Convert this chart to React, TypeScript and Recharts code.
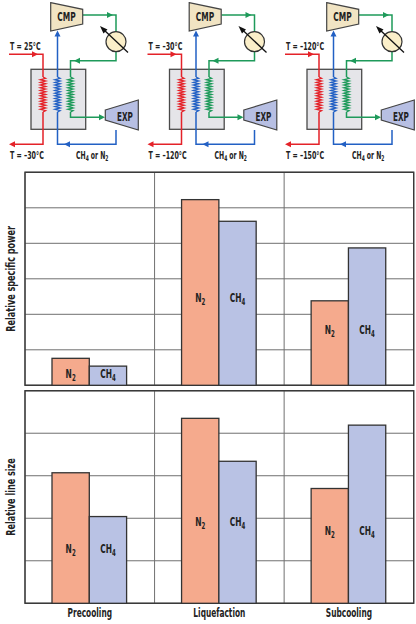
import React from 'react';
import { BarChart, Bar, XAxis, YAxis, CartesianGrid, ReferenceArea, Label } from 'recharts';

const categories = ['Precooling', 'Liquefaction', 'Subcooling'];
const powerN2 = [0.76, 5.23, 2.38];
const powerCH4 = [0.54, 4.62, 3.87];
const lineN2 = [3.07, 4.35, 2.7];
const lineCH4 = [2.04, 3.34, 4.19];
const powerTicks = [0, 1, 2, 3, 4, 5, 6];
const lineTicks = [0, 1, 2, 3, 4, 5];
const inletTemps = ['T = 25°C', 'T = –30°C', 'T = –120°C'];
const outletTemps = ['T = –30°C', 'T = –120°C', 'T = –150°C'];

const powerData = categories.map((c, i) => ({ cat: c, n2: powerN2[i], ch4: powerCH4[i] }));
const lineData = categories.map((c, i) => ({ cat: c, n2: lineN2[i], ch4: lineCH4[i] }));

const FONT = "'Liberation Sans Narrow', 'DejaVu Sans Condensed', 'Roboto Condensed', 'Arial Narrow', sans-serif";
const N2_FILL = '#f5aa8d';
const CH4_FILL = '#b9c2e4';
const RED = '#e42229';
const BLUE = '#2260c4';
const GREEN = '#1e9a5a';

function CT({ x, y, sx, size, anchor = 'start', rotate = 0, fill = '#222', baseline, weight = 'bold', children }: any) {
  return (
    <text
      transform={`translate(${x},${y}) rotate(${rotate}) scale(${sx},1)`}
      textAnchor={anchor}
      dominantBaseline={baseline}
      fontFamily={FONT}
      fontSize={size}
      fontWeight={weight}
      fill={fill}
    >
      {children}
    </text>
  );
}

function makeShape(key: string, other: string, fill: string, base: string, sub: string) {
  return (props: any) => {
    const { x, y, width, height, payload } = props;
    const v = payload[key];
    const o = payload[other];
    const unit = v > 0 ? height / v : 0;
    const bottom = y + height;
    const ly = bottom - ((v + o) / 2) * unit / 2;
    return (
      <g>
        <rect x={x} y={y} width={width} height={height} fill={fill} stroke="#333" strokeWidth={1.3} />
        <CT x={x + width / 2} y={ly + 4.5} sx={0.64} size={13} anchor="middle">
          {base}
          <tspan fontSize={9.5} dy={3}>{sub}</tspan>
        </CT>
      </g>
    );
  };
}

const vGen = ({ offset }: any) => [
  offset.left,
  offset.left + offset.width / 3,
  offset.left + (2 * offset.width) / 3,
  offset.left + offset.width,
];

const hGen = (ticks: number[]) => ({ offset }: any) => {
  const max = ticks[ticks.length - 1];
  return ticks.map((t) => offset.top + offset.height * (1 - t / max));
};

const yLabel = (text: string) => (props: any) => {
  const vb = props.viewBox || {};
  const cx = 10.5;
  const cy = vb.y + vb.height / 2;
  return (
    <CT x={cx} y={cy} rotate={-90} sx={0.72} size={12.5} anchor="middle" baseline="central">
      {text}
    </CT>
  );
};

const CatTick = (props: any) => {
  const { x, y, payload } = props;
  return (
    <CT x={x} y={y + 5.5} sx={0.66} size={12.5} anchor="middle">
      {payload.value}
    </CT>
  );
};

function Panel({ data, ticks, title, showX }: any) {
  const max = ticks[ticks.length - 1];
  return (
    <BarChart
      width={416}
      height={showX ? 239 : 230}
      data={data}
      margin={showX ? { top: 5.7, right: 2.3, bottom: 0, left: 0 } : { top: 12.3, right: 2.3, bottom: 4.7, left: 0 }}
      barGap={0}
      barSize={37.3}
    >
      <CartesianGrid
        stroke="#707070"
        strokeWidth={1}
        verticalCoordinatesGenerator={vGen}
        horizontalCoordinatesGenerator={hGen(ticks)}
      />
      <XAxis dataKey="cat" hide={!showX} height={showX ? 20.7 : 0} axisLine={false} tickLine={false} tick={<CatTick />} interval={0} />
      <YAxis domain={[0, max]} ticks={ticks} width={25} tick={false} axisLine={false} tickLine={false}>
        <Label content={yLabel(title)} />
      </YAxis>
      <Bar dataKey="n2" isAnimationActive={false} shape={makeShape('n2', 'ch4', N2_FILL, 'N', '2')} />
      <Bar dataKey="ch4" isAnimationActive={false} shape={makeShape('ch4', 'n2', CH4_FILL, 'CH', '4')} />
      <ReferenceArea y1={0} y2={max} fill="none" stroke="#3a3a3a" strokeWidth={1.4} ifOverflow="visible" />
    </BarChart>
  );
}

function Arrow({ x, y, dir, color }: any) {
  const L = 6, W = 3;
  let pts = '';
  if (dir === 'r') pts = `${x},${y} ${x - L},${y - W} ${x - L},${y + W}`;
  if (dir === 'l') pts = `${x},${y} ${x + L},${y - W} ${x + L},${y + W}`;
  if (dir === 'u') pts = `${x},${y} ${x - W},${y + L} ${x + W},${y + L}`;
  if (dir === 'd') pts = `${x},${y} ${x - W},${y - L} ${x + W},${y - L}`;
  return <polygon points={pts} fill={color} />;
}

function Coil({ x, y1, y2, color }: any) {
  const pts: string[] = [`${x},${y1}`];
  const n = 26;
  const step = (y2 - y1) / n;
  for (let i = 1; i < n; i++) {
    pts.push(`${x + (i % 2 ? 2.6 : -2.6)},${y1 + i * step}`);
  }
  pts.push(`${x},${y2}`);
  return <polyline points={pts.join(' ')} fill="none" stroke={color} strokeWidth={1.3} />;
}

function Diagram({ dx, tIn, tOut }: any) {
  return (
    <g transform={`translate(${dx},0)`}>
      <rect x={31} y={69.3} width={54.7} height={60} fill="#e5e5e9" stroke="#4a4a4a" strokeWidth={1.3} />
      {/* red */}
      <path d="M9,54.3 H43 V77" fill="none" stroke={RED} strokeWidth={1.5} />
      <Coil x={43} y1={77} y2={112} color={RED} />
      <path d="M43,112 V144.3 H14" fill="none" stroke={RED} strokeWidth={1.5} />
      <Arrow x={38} y={54.3} dir="r" color={RED} />
      <Arrow x={9} y={144.3} dir="l" color={RED} />
      {/* blue */}
      <path d="M116,130 V144.3 H57.5 V112" fill="none" stroke={BLUE} strokeWidth={1.5} />
      <Coil x={57.5} y1={77} y2={112} color={BLUE} />
      <path d="M57.5,77 V33" fill="none" stroke={BLUE} strokeWidth={1.5} />
      <Arrow x={57.5} y={30.5} dir="u" color={BLUE} />
      <Arrow x={64} y={144.3} dir="l" color={BLUE} />
      {/* green */}
      <path d="M83,15 H116 V31.7" fill="none" stroke={GREEN} strokeWidth={1.5} />
      <path d="M116,51.7 V60.7 H70.5 V77" fill="none" stroke={GREEN} strokeWidth={1.5} />
      <Coil x={70.5} y1={77} y2={112} color={GREEN} />
      <path d="M70.5,112 V117.3 H100" fill="none" stroke={GREEN} strokeWidth={1.5} />
      <Arrow x={113} y={15} dir="r" color={GREEN} />
      <Arrow x={74} y={60.7} dir="l" color={GREEN} />
      <Arrow x={105} y={117.3} dir="r" color={GREEN} />
      {/* valve */}
      <circle cx={116} cy={41.7} r={10} fill="#fbefc9" stroke="#333" strokeWidth={1.2} />
      <line x1={103} y1={29} x2={128} y2={52.5} stroke="#111" strokeWidth={1.3} />
      <polygon points="100,26 107.5,29.5 103.5,33.5" fill="#111" />
      {/* compressor */}
      <polygon points="50.7,2.7 82.7,9.3 82.7,24 50.7,31" fill="#f1e4c3" stroke="#444" strokeWidth={1.2} />
      <CT x={66.5} y={21} sx={0.72} size={11.5} anchor="middle">CMP</CT>
      {/* expander */}
      <polygon points="105.3,110 138.3,100 138.3,130 105.3,120" fill="#b7bfe3" stroke="#444" strokeWidth={1.2} />
      <CT x={125} y={121} sx={0.7} size={11.5} anchor="middle">EXP</CT>
      {/* labels */}
      <CT x={10} y={50} sx={0.64} size={11}>{tIn}</CT>
      <CT x={10} y={158.5} sx={0.64} size={11}>{tOut}</CT>
      <CT x={76} y={158.5} sx={0.62} size={11}>
        CH<tspan fontSize={8} dy={2.5}>4</tspan>
        <tspan dy={-2.5}> or N</tspan>
        <tspan fontSize={8} dy={2.5}>2</tspan>
      </CT>
    </g>
  );
}

export default function App() {
  return (
    <div style={{ position: 'absolute', left: 0, top: 0, width: 416, height: 624, background: '#fff', overflow: 'hidden' }}>
      <svg width={416} height={170} style={{ position: 'absolute', left: 0, top: 0 }}>
        {[0, 138.5, 276].map((dx, i) => (
          <Diagram key={i} dx={dx} tIn={inletTemps[i]} tOut={outletTemps[i]} />
        ))}
      </svg>
      <div style={{ position: 'absolute', left: 0, top: 160 }}>
        <Panel data={powerData} ticks={powerTicks} title="Relative specific power" showX={false} />
      </div>
      <div style={{ position: 'absolute', left: 0, top: 385 }}>
        <Panel data={lineData} ticks={lineTicks} title="Relative line size" showX={true} />
      </div>
    </div>
  );
}
